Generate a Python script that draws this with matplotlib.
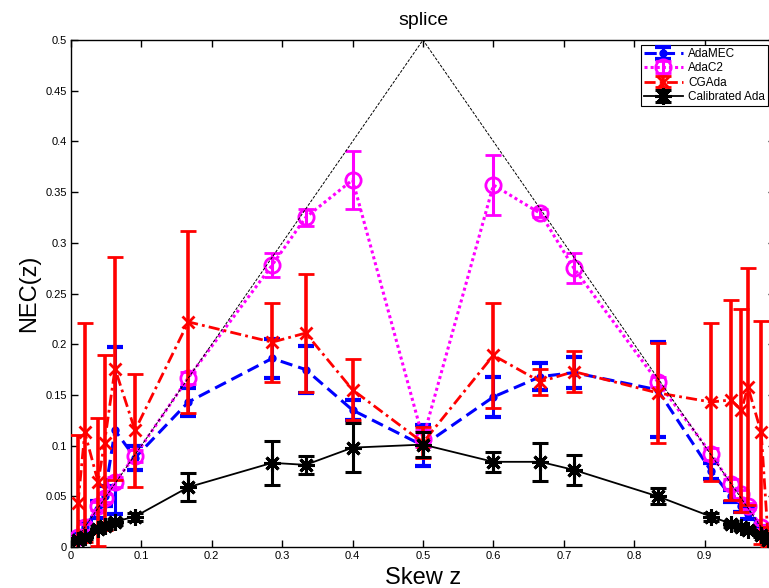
import matplotlib
matplotlib.use('Agg')
import matplotlib.pyplot as plt

plt.rcParams['font.family'] = ['Liberation Sans', 'DejaVu Sans']

# skew values (cost ratios 1:100 ... 100:1)
skew = [0.0099, 0.0196, 0.0385, 0.0476, 0.0625, 0.0909, 0.1667, 0.2857, 0.3333, 0.4,
        0.5, 0.6, 0.6667, 0.7143, 0.8333, 0.9091, 0.9375, 0.9524, 0.9615, 0.9804, 0.9901]

adamec = [0.010, 0.020, 0.037, 0.050, 0.115, 0.088, 0.143, 0.186, 0.175, 0.135,
          0.100, 0.148, 0.168, 0.172, 0.155, 0.075, 0.050, 0.040, 0.033, 0.018, 0.009]
adamec_err = [0.003, 0.005, 0.008, 0.010, 0.082, 0.012, 0.014, 0.019, 0.023, 0.010,
              0.020, 0.020, 0.013, 0.015, 0.047, 0.008, 0.006, 0.005, 0.005, 0.003, 0.002]

adac2 = [0.010, 0.020, 0.040, 0.048, 0.064, 0.090, 0.167, 0.278, 0.325, 0.362,
         0.107, 0.357, 0.329, 0.275, 0.163, 0.092, 0.062, 0.052, 0.040, 0.020, 0.010]
adac2_err = [0.002, 0.003, 0.004, 0.004, 0.005, 0.006, 0.006, 0.012, 0.008, 0.029,
             0.008, 0.030, 0.004, 0.015, 0.005, 0.006, 0.005, 0.004, 0.003, 0.002, 0.001]

cgada = [0.043, 0.113, 0.064, 0.103, 0.176, 0.115, 0.222, 0.202, 0.211, 0.155,
         0.103, 0.189, 0.163, 0.173, 0.152, 0.143, 0.145, 0.135, 0.158, 0.113, 0.010]
cgada_err = [0.067, 0.108, 0.063, 0.086, 0.110, 0.056, 0.090, 0.039, 0.058, 0.030,
             0.015, 0.052, 0.013, 0.020, 0.049, 0.078, 0.099, 0.100, 0.117, 0.110, 0.010]

calib = [0.007, 0.010, 0.018, 0.021, 0.025, 0.030, 0.059, 0.083, 0.081, 0.098,
         0.101, 0.084, 0.084, 0.076, 0.050, 0.030, 0.023, 0.020, 0.017, 0.012, 0.007]
calib_err = [0.002, 0.002, 0.003, 0.003, 0.003, 0.004, 0.014, 0.022, 0.009, 0.024,
             0.012, 0.010, 0.019, 0.015, 0.008, 0.004, 0.003, 0.003, 0.003, 0.002, 0.002]

# trivial classifier NEC
triv_x = [0, 0.5, 1]
triv_y = [0, 0.5, 0]

xticks = [0, 0.1, 0.2, 0.3, 0.4, 0.5, 0.6, 0.7, 0.8, 0.9, 1]
# the label at 1 falls outside the cropped picture
xlabels = ['0', '0.1', '0.2', '0.3', '0.4', '0.5', '0.6', '0.7', '0.8', '0.9', '']
yticks = [0, 0.05, 0.1, 0.15, 0.2, 0.25, 0.3, 0.35, 0.4, 0.45, 0.5]
ylabels = ['0', '0.05', '0.1', '0.15', '0.2', '0.25', '0.3', '0.35', '0.4', '0.45', '0.5']

fig = plt.figure(figsize=(7.69, 5.88), dpi=100)
ax = fig.add_axes([71/769, 1 - 547/588, 704/769, 507/588])

ax.plot(triv_x, triv_y, color='k', lw=0.7, linestyle=(0, (3, 1.5)), zorder=5)

ax.errorbar(skew, adamec, yerr=adamec_err, color='#0000ff', lw=2.2, dashes=(4, 2),
            marker='o', ms=5, mfc='#0000ff', mec='#0000ff',
            elinewidth=2.2, capsize=5.5, capthick=3, label='AdaMEC', zorder=2)
ax.errorbar(skew, adac2, yerr=adac2_err, color='#ff00ff', lw=2.2, linestyle=(0, (1, 1)),
            marker='o', ms=11, mfc='none', mec='#ff00ff', mew=2,
            elinewidth=2.2, capsize=5.5, capthick=2.5, label='AdaC2', zorder=3)
ax.errorbar(skew, cgada, yerr=cgada_err, color='#ff0000', lw=2, dashes=(4, 1.5, 1, 1.5),
            marker='x', ms=9, mew=2,
            elinewidth=2.6, capsize=5.5, capthick=2.6, label='CGAda', zorder=4)
ax.errorbar(skew, calib, yerr=calib_err, color='k', lw=1.3,
            marker=(8, 2, 0), ms=12, mew=2.2,
            elinewidth=2.2, capsize=5.5, capthick=2.6, label='Calibrated Ada', zorder=6)

ax.set_xlim(0, 1)
ax.set_ylim(0, 0.5)
ax.set_xticks(xticks)
ax.set_xticklabels(xlabels)
ax.set_yticks(yticks)
ax.set_yticklabels(ylabels)
ax.tick_params(direction='in', length=5, width=1, top=True, right=True, labelsize=8, pad=3)
for s in ax.spines.values():
    s.set_linewidth(1)

ax.set_title('splice', fontsize=14, pad=11)
ax.set_xlabel('Skew z', fontsize=17, labelpad=4)
ax.set_ylabel('NEC(z)', fontsize=17, labelpad=4)

leg = ax.legend(loc='upper left', bbox_to_anchor=(641/769, 1 - 45/588),
                bbox_transform=fig.transFigure, fontsize=8.5, frameon=True,
                fancybox=False, edgecolor='k', framealpha=1, borderpad=0.25,
                labelspacing=0.2, handlelength=3.3, handletextpad=0.45, borderaxespad=0)
leg.get_frame().set_linewidth(0.8)

fig.savefig('out.png', dpi=100)
